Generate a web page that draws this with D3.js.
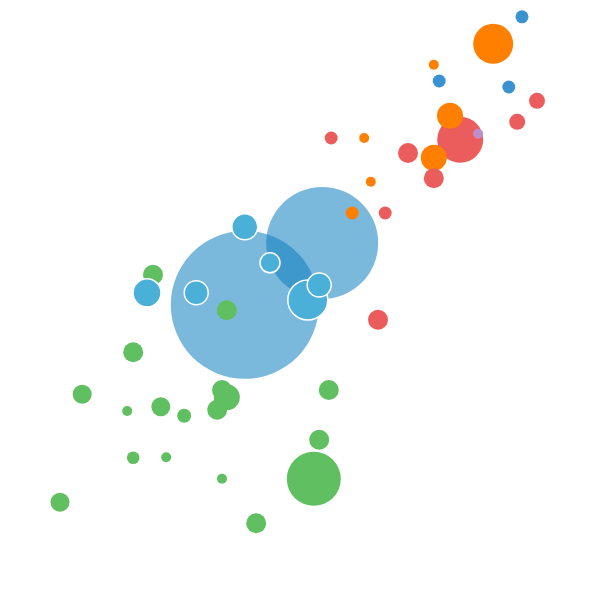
<!DOCTYPE html>
<html>
<head>
<meta charset="utf-8">
<script src="https://cdn.jsdelivr.net/npm/d3@7"></script>
<style>
html,body{margin:0;padding:0;background:#fff;}
svg{display:block;}
</style>
</head>
<body>
<svg id="chart" width="600" height="600"></svg>
<script>
// Series (drawing order)
const groups = ["A","A",
  "C","C","C","C","C","C","C","C","C","C","C","C","C","C","C","C","C","C",
  "B","B","B","B","B","B",
  "D","D","D",
  "F",
  "E","E","E","E","E","E","E",
  "F","F","F","F","F","F","F",
  "G"];
const xValues = [40.8,53.7,
  25.5,37.8,22.2,13.7,21.2,26.8,30.7,37,37.8,36.2,54.8,53.2,52.3,22.2,27.7,37,10,42.7,
  40.8,32.7,45,51.3,53.2,24.5,
  87,73.2,84.8,
  76.7,
  82.2,72.3,75,60.7,72.3,61.8,58.7,
  89.5,86.2,55.2,68,72.3,64.2,63,
  79.7];
const yValues = [49.2,59.5,
  54.2,48.3,41.3,34.3,31.5,32.2,30.7,35,33.8,31.7,35,26.7,20.2,23.7,23.8,20.2,16.3,12.8,
  62.2,51.2,56.2,50,52.5,51.2,
  97.2,86.5,85.5,
  76.7,
  92.7,89.2,80.7,77,73.7,69.7,64.5,
  83.2,79.7,77,74.5,70.3,64.5,46.7,
  77.7];
const sizeValues = [5476,3136,
  100,100,100,90,25,90,49,100,169,100,100,100,729,40,25,25,90,100,
  169,144,100,400,144,196,
  42,42,42,
  529,
  400,25,169,25,169,25,42,
  64,64,42,100,100,42,100,
  25];
const groupNames = ["A","B","C","D","E","F","G"];
const groupColors = ["rgb(13,125,191)","#4ab0d8","#60bf60","#3b92d0","#ff7f00","#eb5c5c","#b993d6"];
const groupOpacity = [0.55,1,1,1,1,1,0.9];
const groupStroke = ["none","#fff","none","none","none","none","none"];

const data = groups.map((g,i)=>({g, x:xValues[i], y:yValues[i], s:sizeValues[i]}));

const W = 600, H = 600;
const x = d3.scaleLinear().domain([0,100]).range([0,W]);
const y = d3.scaleLinear().domain([0,100]).range([H,0]);
const r = d3.scaleSqrt().domain([0,100]).range([0,10]);
const color = d3.scaleOrdinal().domain(groupNames).range(groupColors);
const opac = d3.scaleOrdinal().domain(groupNames).range(groupOpacity);
const stroke = d3.scaleOrdinal().domain(groupNames).range(groupStroke);

const svg = d3.select("#chart");
svg.selectAll("circle").data(data).join("circle")
  .attr("cx", d=>x(d.x))
  .attr("cy", d=>y(d.y))
  .attr("r", d=>r(d.s))
  .attr("fill", d=>color(d.g))
  .attr("fill-opacity", d=>opac(d.g))
  .attr("stroke", d=>stroke(d.g))
  .attr("stroke-width", 1.5);
</script>
</body>
</html>
